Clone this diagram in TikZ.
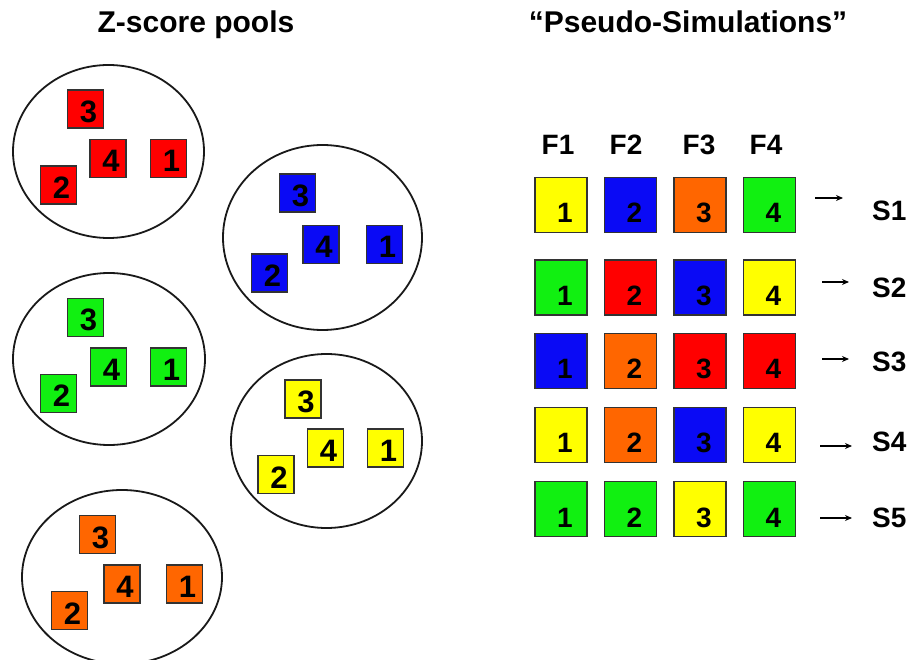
\documentclass[tikz,border=0pt]{standalone}
\usepackage{fontspec}
\setmainfont{Liberation Sans}
\usetikzlibrary{arrows.meta,shapes.geometric}
\definecolor{cred}{HTML}{FF0000}
\definecolor{cblue}{HTML}{0A0AF5}
\definecolor{cgreen}{HTML}{11F011}
\definecolor{cyellow}{HTML}{FFFF00}
\definecolor{corange}{HTML}{FF6600}
\definecolor{edge}{HTML}{333333}
\tikzset{
  pool/.style={draw=black!90, line width=1.8pt, shape=ellipse, inner sep=0pt},
  poolbox/.style={draw=edge, line width=1.4pt, rectangle, inner sep=0pt, minimum width=36pt, minimum height=38pt},
  gridbox/.style={draw=edge, line width=1.4pt, rectangle, inner sep=0pt, minimum width=52pt, minimum height=55pt},
  pooldig/.style={anchor=base, inner sep=0pt, font=\fontsize{31}{36}\selectfont\bfseries},
  griddig/.style={anchor=base, inner sep=0pt, font=\fontsize{28}{32}\selectfont\bfseries},
  head/.style={anchor=base, inner sep=0pt, font=\fontsize{28}{32}\selectfont\bfseries},
  title/.style={anchor=base, inner sep=0pt, font=\fontsize{30}{36}\selectfont\bfseries},
  slabel/.style={anchor=base west, inner sep=0pt, font=\fontsize{28}{32}\selectfont\bfseries},
  sarrow/.style={-{Stealth[length=7pt,width=6pt]}, line width=1.4pt, black}
}
\newcommand\poolsq[5]{%
  \node[poolbox, fill=#4] (#1) at (#2,#3) {};
  \node[pooldig] (#1d) at ([shift={(3,13.5)}]#1.center) {#5};}
\newcommand\gridsq[5]{%
  \node[gridbox, fill=#4] (#1) at (#2,#3) {};
  \node[griddig] (#1d) at ([shift={(4,18)}]#1.center) {#5};}
\begin{document}
\begin{tikzpicture}[x=1pt,y=-1pt]
\useasboundingbox[fill=white] (0,0) rectangle (911,660);

% titles
\node[title] (t1) at (196,33) {Z-score pools};
\node[title] (t2) at (688,33) {“Pseudo-Simulations”};

% pools
\node[pool, minimum width=191pt, minimum height=173pt] (pr) at (108.5,151.5) {};
\node[pool, minimum width=199pt, minimum height=185pt] (pb) at (322.5,237.5) {};
\node[pool, minimum width=192pt, minimum height=172pt] (pg) at (109,359) {};
\node[pool, minimum width=191pt, minimum height=174pt] (py) at (326.5,441) {};
\node[pool, minimum width=200pt, minimum height=174pt] (po) at (122,577) {};

\poolsq{r3}{85.5}{109}{cred}{3}
\poolsq{r4}{108}{158.5}{cred}{4}
\poolsq{r1}{168.5}{158.5}{cred}{1}
\poolsq{r2}{58.5}{185}{cred}{2}

\poolsq{b3}{297.5}{193}{cblue}{3}
\poolsq{b4}{321}{244.5}{cblue}{4}
\poolsq{b1}{384.5}{244.5}{cblue}{1}
\poolsq{b2}{269.5}{273}{cblue}{2}

\poolsq{g3}{85.5}{317.5}{cgreen}{3}
\poolsq{g4}{108.5}{367}{cgreen}{4}
\poolsq{g1}{168.5}{367}{cgreen}{1}
\poolsq{g2}{58.5}{393.5}{cgreen}{2}

\poolsq{y3}{303}{399}{cyellow}{3}
\poolsq{y4}{325.5}{448}{cyellow}{4}
\poolsq{y1}{385.5}{448}{cyellow}{1}
\poolsq{y2}{276}{474.5}{cyellow}{2}

\poolsq{o3}{97.5}{534.5}{corange}{3}
\poolsq{o4}{122}{584}{corange}{4}
\poolsq{o1}{184.5}{584}{corange}{1}
\poolsq{o2}{69.5}{610.5}{corange}{2}

% column heads
\node[head] (f1) at (558,155) {F1};
\node[head] (f2) at (626,155) {F2};
\node[head] (f3) at (699,155) {F3};
\node[head] (f4) at (766,155) {F4};

% grid
\gridsq{a1}{561}{205}{cyellow}{1}
\gridsq{a2}{630.5}{205}{cblue}{2}
\gridsq{a3}{700}{205}{corange}{3}
\gridsq{a4}{769.5}{205}{cgreen}{4}

\gridsq{c1}{561}{287.5}{cgreen}{1}
\gridsq{c2}{630.5}{287.5}{cred}{2}
\gridsq{c3}{700}{287.5}{cblue}{3}
\gridsq{c4}{769.5}{287.5}{cyellow}{4}

\gridsq{d1}{561}{361}{cblue}{1}
\gridsq{d2}{630.5}{361}{corange}{2}
\gridsq{d3}{700}{361}{cred}{3}
\gridsq{d4}{769.5}{361}{cred}{4}

\gridsq{e1}{561}{435}{cyellow}{1}
\gridsq{e2}{630.5}{435}{corange}{2}
\gridsq{e3}{700}{435}{cblue}{3}
\gridsq{e4}{769.5}{435}{cyellow}{4}

\gridsq{h1}{561}{509}{cgreen}{1}
\gridsq{h2}{630.5}{509}{cgreen}{2}
\gridsq{h3}{700}{509}{cyellow}{3}
\gridsq{h4}{769.5}{509}{cgreen}{4}

% simulation labels
\node[slabel] (s1) at (872,221) {S1};
\node[slabel] (s2) at (872,298) {S2};
\node[slabel] (s3) at (872,372) {S3};
\node[slabel] (s4) at (872,452) {S4};
\node[slabel] (s5) at (872,527) {S5};

% arrows
\coordinate (a1s) at (815,198); \coordinate (a1e) at (843,198);
\coordinate (a2s) at (822,282); \coordinate (a2e) at (849,282);
\coordinate (a3s) at (822,359); \coordinate (a3e) at (849,359);
\coordinate (a4s) at (820,446); \coordinate (a4e) at (852,446);
\coordinate (a5s) at (820,518); \coordinate (a5e) at (852,518);
\draw[sarrow] (a1s) -- (a1e);
\draw[sarrow] (a2s) -- (a2e);
\draw[sarrow] (a3s) -- (a3e);
\draw[sarrow] (a4s) -- (a4e);
\draw[sarrow] (a5s) -- (a5e);
\end{tikzpicture}
\end{document}
